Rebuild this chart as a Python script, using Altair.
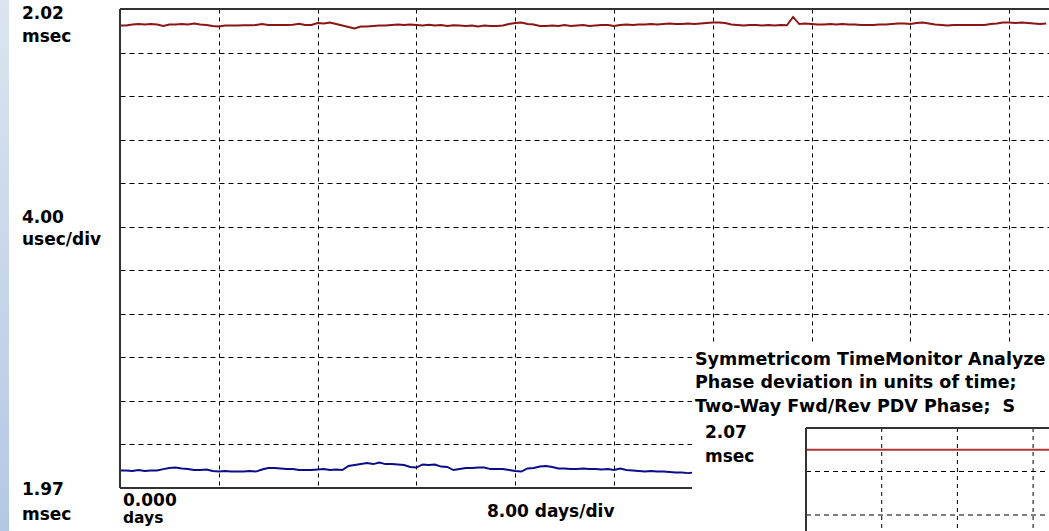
import altair as alt
import pandas as pd

# ---------------- data ----------------
STEP_DAYS = 0.5  # sample spacing of the traces, days

# Forward (red) phase trace, usec
fwd_phase_us = [
    2018.48, 2018.48, 2018.58, 2018.62, 2018.58, 2018.62, 2018.58, 2018.44, 2018.58, 2018.58,
    2018.62, 2018.58, 2018.67, 2018.58, 2018.53, 2018.44, 2018.39, 2018.48, 2018.48, 2018.48,
    2018.51, 2018.51, 2018.53, 2018.62, 2018.53, 2018.53, 2018.53, 2018.53, 2018.55, 2018.65,
    2018.53, 2018.53, 2018.71, 2018.67, 2018.76, 2018.62, 2018.48, 2018.35, 2018.21, 2018.39,
    2018.39, 2018.44, 2018.48, 2018.48, 2018.53, 2018.58, 2018.53, 2018.58, 2018.53, 2018.48,
    2018.55, 2018.48, 2018.53, 2018.44, 2018.51, 2018.48, 2018.44, 2018.48, 2018.39, 2018.48,
    2018.44, 2018.44, 2018.48, 2018.62, 2018.71, 2018.76, 2018.62, 2018.58, 2018.44, 2018.44,
    2018.48, 2018.44, 2018.53, 2018.44, 2018.48, 2018.53, 2018.44, 2018.48, 2018.53, 2018.53,
    2018.44, 2018.53, 2018.58, 2018.53, 2018.58, 2018.58, 2018.62, 2018.58, 2018.62, 2018.67,
    2018.62, 2018.62, 2018.67, 2018.62, 2018.67, 2018.71, 2018.76, 2018.76, 2018.71, 2018.58,
    2018.53, 2018.48, 2018.53, 2018.53, 2018.48, 2018.53, 2018.48, 2018.53, 2018.51, 2019.27,
    2018.62, 2018.67, 2018.62, 2018.58, 2018.58, 2018.62, 2018.58, 2018.62, 2018.58, 2018.58,
    2018.53, 2018.53, 2018.53, 2018.58, 2018.58, 2018.62, 2018.67, 2018.67, 2018.62, 2018.71,
    2018.76, 2018.67, 2018.58, 2018.53, 2018.48, 2018.53, 2018.53, 2018.53, 2018.53, 2018.53,
    2018.53, 2018.62, 2018.67, 2018.76, 2018.76, 2018.71, 2018.76, 2018.71, 2018.67, 2018.62,
    2018.67,
]

# Reverse (blue) phase trace, usec
rev_phase_us = [
    1977.61, 1977.61, 1977.56, 1977.65, 1977.56, 1977.61, 1977.61, 1977.74, 1977.84, 1977.88,
    1977.79, 1977.74, 1977.65, 1977.65, 1977.70, 1977.56, 1977.51, 1977.56, 1977.51, 1977.51,
    1977.51, 1977.56, 1977.51, 1977.70, 1977.84, 1977.84, 1977.79, 1977.74, 1977.74, 1977.65,
    1977.65, 1977.65, 1977.70, 1977.74, 1977.65, 1977.70, 1977.65, 1978.02, 1978.11, 1978.20,
    1978.30, 1978.20, 1978.34, 1978.20, 1978.20, 1978.16, 1978.11, 1977.93, 1977.88, 1978.16,
    1978.11, 1978.16, 1977.97, 1977.93, 1977.65, 1977.74, 1977.84, 1977.84, 1977.88, 1977.88,
    1977.74, 1977.74, 1977.74, 1977.65, 1977.56, 1977.51, 1977.79, 1977.84, 1977.97, 1978.02,
    1977.93, 1977.79, 1977.79, 1977.74, 1977.74, 1977.79, 1977.74, 1977.74, 1977.70, 1977.74,
    1977.65, 1977.79, 1977.65, 1977.61, 1977.56, 1977.51, 1977.56, 1977.51, 1977.51, 1977.47,
    1977.42, 1977.42, 1977.37, 1977.42,
]

# Main chart divisions (8 days/div, 4 usec/div)
x_div_days = [8, 16, 24, 32, 40, 48, 56, 64, 72]
y_div_us = [1980, 1984, 1988, 1992, 1996, 2000, 2004, 2008, 2012, 2016]

# Inset window (second analyzer window)
inset_days = [0, 8, 16, 24, 32]
inset_fwd_us = [2068.0, 2068.0, 2068.0, 2068.0, 2068.0]
inset_x_div_days = [8, 16, 24]
inset_y_div_us = [2066, 2062, 2058, 2054]

# Texts
left_labels = ["2.02", "msec", "4.00", "usec/div", "1.97", "msec"]
bottom_labels = ["0.000", "8.00 days/div"]
bottom_unit_labels = ["days"]
inset_title_lines = [
    "Symmetricom TimeMonitor Analyze",
    "Phase deviation in units of time;",
    "Two-Way Fwd/Rev PDV Phase;\u00a0\u00a0S",
]
inset_axis_labels = ["2.07", "msec"]

# ---------------- layout (pixels, relative to the plot origin) ----------------
W, H = 929, 479
left_label_pos = [(-98, 10), (-98, 33), (-98, 214), (-98, 236), (-98, 486), (-98, 511)]
bottom_label_pos = [(3, 497), (367, 508)]
bottom_unit_pos = [(3, 514)]
inset_title_pos = [(575, 356), (575, 379), (575, 403)]
inset_axis_pos = [(585, 429), (585, 453)]

FONT = "DejaVu Sans"
FRAME = "#333333"

main_df = pd.concat([
    pd.DataFrame({"day": [i * STEP_DAYS for i in range(len(fwd_phase_us))],
                  "phase": fwd_phase_us, "series": "Fwd"}),
    pd.DataFrame({"day": [i * STEP_DAYS for i in range(len(rev_phase_us))],
                  "phase": rev_phase_us, "series": "Rev"}),
])

x_main = alt.Scale(domain=[0, 80], range=[0, 988], nice=False, zero=False)
y_main = alt.Scale(domain=[1976, 2020], nice=False, zero=False)
x_inset = alt.Scale(domain=[0, 32], range=[686, 988.8], nice=False, zero=False)
y_inset = alt.Scale(domain=[2030, 2070], range=[854, 419], nice=False, zero=False)

# left gradient strip
strip = alt.Chart(pd.DataFrame({"a": [0]})).mark_rect(
    fill=alt.LinearGradient(
        gradient="linear",
        stops=[alt.GradientStop(color="#dbe5f1", offset=0),
               alt.GradientStop(color="#b4c8e4", offset=1)],
        x1=0, x2=0, y1=0, y2=1,
    )
).encode(x=alt.value(-120), x2=alt.value(-111), y=alt.value(-9), y2=alt.value(522))

# main traces with dashed division grid
traces = alt.Chart(main_df).mark_line(strokeWidth=1.9, clip=False).encode(
    x=alt.X("day:Q", scale=x_main,
            axis=alt.Axis(values=x_div_days, grid=True, gridColor="#000000", gridDash=[4, 4],
                          gridWidth=1, gridOpacity=1, labels=False, ticks=False,
                          domain=False, title=None)),
    y=alt.Y("phase:Q", scale=y_main,
            axis=alt.Axis(values=y_div_us, grid=True, gridColor="#000000", gridDash=[5, 4],
                          gridWidth=1, gridOpacity=1, labels=False, ticks=False,
                          domain=False, title=None)),
    color=alt.Color("series:N", scale=alt.Scale(domain=["Fwd", "Rev"],
                                                range=["#8b1414", "#0c0c8a"]), legend=None),
    detail="series:N",
)

one = pd.DataFrame({"a": [0]})
frame_top = alt.Chart(one).mark_rule(color=FRAME, strokeWidth=2).encode(
    x=alt.value(0), x2=alt.value(W), y=alt.value(0))
frame_left = alt.Chart(one).mark_rule(color=FRAME, strokeWidth=2).encode(
    x=alt.value(0), y=alt.value(0), y2=alt.value(H))
frame_bottom = alt.Chart(one).mark_rule(color=FRAME, strokeWidth=2).encode(
    x=alt.value(0), x2=alt.value(W), y=alt.value(H))

# inset window background
inset_bg = alt.Chart(one).mark_rect(fill="white").encode(
    x=alt.value(572), x2=alt.value(W + 10), y=alt.value(336), y2=alt.value(540))

inset_vgrid = alt.Chart(pd.DataFrame({"d": inset_x_div_days})).mark_rule(
    color="#000000", strokeWidth=1, strokeDash=[4, 4]).encode(
    x=alt.X("d:Q", scale=x_inset, axis=None), y=alt.value(419), y2=alt.value(540))
inset_hgrid = alt.Chart(pd.DataFrame({"v": inset_y_div_us})).mark_rule(
    color="#000000", strokeWidth=1, strokeDash=[5, 4]).encode(
    y=alt.Y("v:Q", scale=y_inset, axis=None), x=alt.value(686), x2=alt.value(W + 10))
inset_line = alt.Chart(pd.DataFrame({"day": inset_days, "phase": inset_fwd_us})).mark_line(
    color="#b03434", strokeWidth=2).encode(
    x=alt.X("day:Q", scale=x_inset, axis=None),
    y=alt.Y("phase:Q", scale=y_inset, axis=None))
inset_top = alt.Chart(one).mark_rule(color=FRAME, strokeWidth=2).encode(
    x=alt.value(686), x2=alt.value(W + 10), y=alt.value(419))
inset_left = alt.Chart(one).mark_rule(color=FRAME, strokeWidth=2).encode(
    x=alt.value(686), y=alt.value(419), y2=alt.value(540))


def text_layer(labels, pos, size):
    df = pd.DataFrame({"label": labels,
                       "px": [p[0] for p in pos],
                       "py": [p[1] for p in pos]})
    return alt.Chart(df).mark_text(
        align="left", baseline="alphabetic", font=FONT, fontWeight="bold",
        fontSize=size, color="#000000").encode(
        x=alt.X("px:Q", scale=None, axis=None),
        y=alt.Y("py:Q", scale=None, axis=None),
        text="label:N")


chart = alt.layer(
    strip,
    traces,
    frame_top, frame_left, frame_bottom,
    inset_bg, inset_vgrid, inset_hgrid, inset_line, inset_top, inset_left,
    text_layer(left_labels, left_label_pos, 17),
    text_layer(bottom_labels, bottom_label_pos, 17),
    text_layer(bottom_unit_labels, bottom_unit_pos, 15.5),
    text_layer(inset_title_lines, inset_title_pos, 17.5),
    text_layer(inset_axis_labels, inset_axis_pos, 17),
).resolve_scale(
    x="independent", y="independent"
).properties(
    width=W, height=H,
    padding={"left": 120, "top": 9, "right": 0, "bottom": 43},
    autosize=alt.AutoSizeParams(type="none"),
    background="white",
).configure_view(stroke=None)

chart.save("out.html", embed_options={"renderer": "svg", "actions": False})
